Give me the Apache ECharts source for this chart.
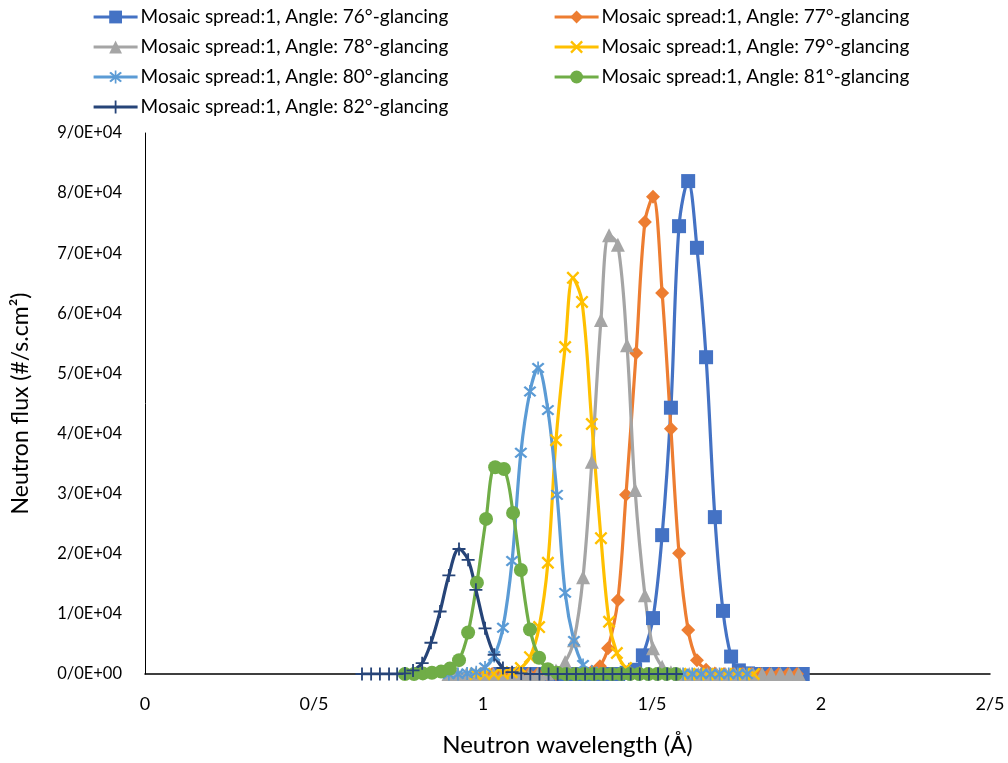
<!DOCTYPE html>
<html>
<head>
<meta charset="utf-8">
<script src="https://cdn.jsdelivr.net/npm/echarts@6/dist/echarts.min.js"></script>
<style>
html,body{margin:0;padding:0;background:#fff;}
#chart{width:1008px;height:763px;}
</style>
</head>
<body>
<div id="chart"></div>
<script>
// ---- Data ----
const seriesNames = [
  'Mosaic spread:1, Angle: 76°-glancing',
  'Mosaic spread:1, Angle: 77°-glancing',
  'Mosaic spread:1, Angle: 78°-glancing',
  'Mosaic spread:1, Angle: 79°-glancing',
  'Mosaic spread:1, Angle: 80°-glancing',
  'Mosaic spread:1, Angle: 81°-glancing',
  'Mosaic spread:1, Angle: 82°-glancing'
];

const x76 = [1.050,1.077,1.104,1.131,1.158,1.185,1.212,1.239,1.266,1.293,1.320,1.347,1.374,1.400,1.425,1.450,1.473,1.503,1.530,1.556,1.580,1.607,1.633,1.660,1.686,1.710,1.734,1.757,1.784,1.811,1.838,1.865,1.892,1.919,1.946];
const y76 = [0,0,0,0,0,0,0,0,0,0,0,0,0,0,200,700,3100,9300,23100,44300,74500,82000,70900,52700,26100,10500,2900,600,100,0,0,0,0,0,0];

const x77 = [1.000,1.027,1.054,1.081,1.108,1.135,1.162,1.189,1.216,1.243,1.270,1.296,1.322,1.346,1.370,1.399,1.423,1.453,1.479,1.503,1.530,1.556,1.580,1.607,1.633,1.660,1.686,1.713,1.740,1.767,1.794,1.821,1.848,1.875,1.902,1.929];
const y77 = [0,0,0,0,0,0,0,0,0,0,0,100,400,1300,4300,12300,29800,53400,75200,79400,63400,40800,20100,7300,2300,700,100,0,0,0,0,0,0,0,0,0];

const x78 = [0.898,0.925,0.951,0.978,1.004,1.031,1.057,1.084,1.110,1.137,1.163,1.190,1.216,1.243,1.269,1.296,1.322,1.349,1.373,1.399,1.426,1.450,1.479,1.503,1.530,1.556,1.583,1.610,1.637,1.664,1.691,1.718,1.745,1.772,1.799,1.826,1.853,1.880,1.907,1.934];
const y78 = [0,0,0,0,0,0,0,0,0,0,0,100,600,2000,5600,16100,35300,58900,73000,71400,54700,30600,13100,4300,1200,300,0,0,0,0,0,0,0,0,0,0,0,0,0,0];

const x79 = [0.978,1.005,1.032,1.059,1.085,1.112,1.139,1.166,1.192,1.216,1.243,1.266,1.293,1.322,1.349,1.373,1.396,1.423,1.450,1.477,1.504,1.531,1.558,1.585,1.612,1.639,1.666,1.693,1.720,1.747,1.774,1.801];
const y79 = [0,0,0,100,300,1000,2800,7800,18500,38900,54400,65900,61900,41600,22600,8700,3500,1000,200,0,0,0,0,0,0,0,0,0,0,0,0,0];

const x80 = [0.899,0.926,0.953,0.980,1.006,1.033,1.059,1.086,1.112,1.139,1.163,1.192,1.219,1.243,1.269,1.296,1.322,1.349,1.376,1.403,1.430,1.457,1.484,1.511,1.538,1.565,1.592,1.619,1.646,1.673,1.700,1.727,1.754,1.781];
const y80 = [0,0,100,300,1100,3000,7700,18800,36800,47000,50900,43900,29800,13500,5500,1500,400,100,0,0,0,0,0,0,0,0,0,0,0,0,0,0,0,0];

const x81 = [0.769,0.796,0.822,0.849,0.876,0.902,0.929,0.956,0.982,1.009,1.036,1.062,1.089,1.112,1.139,1.166,1.192,1.219,1.246,1.273,1.300,1.327,1.354,1.381,1.408,1.435,1.462,1.489,1.516,1.543,1.570];
const y81 = [0,0,100,200,400,900,2300,6900,15200,25800,34400,34100,26800,17300,7400,2700,800,200,0,0,0,0,0,0,0,0,0,0,0,0,0];

const x82 = [0.642,0.669,0.695,0.722,0.746,0.769,0.793,0.820,0.846,0.873,0.899,0.929,0.956,0.979,1.006,1.033,1.059,1.086,1.113,1.140,1.167,1.194,1.221,1.248,1.275,1.302,1.329,1.356,1.383,1.410,1.437,1.464,1.491,1.518,1.545,1.572];
const y82 = [0,0,0,0,0,100,600,1800,5200,10400,16400,20800,19000,14000,7600,3200,1000,300,100,0,0,0,0,0,0,0,0,0,0,0,0,0,0,0,0,0];

const xTickLabels = ['0','0/5','1','1/5','2','2/5'];
const yTickLabels = ['0/0E+00','1/0E+04','2/0E+04','3/0E+04','4/0E+04','5/0E+04','6/0E+04','7/0E+04','8/0E+04','9/0E+04'];

// ---- Styling ----
const colors = ['#4472C4','#ED7D31','#A5A5A5','#FFC000','#5B9BD5','#70AD47','#264478'];
const SYM_X = 'path://M0,1.3 L1.3,0 L10,8.7 L8.7,10 Z M8.7,0 L10,1.3 L1.3,10 L0,8.7 Z';
const SYM_AST = 'path://M0,1.3 L1.3,0 L10,8.7 L8.7,10 Z M8.7,0 L10,1.3 L1.3,10 L0,8.7 Z M4.35,-1 L5.65,-1 L5.65,11 L4.35,11 Z';
const SYM_PLUS = 'path://M0,4.3 L10,4.3 L10,5.7 L0,5.7 Z M4.3,0 L5.7,0 L5.7,10 L4.3,10 Z';
const symbols = ['rect','diamond','triangle',SYM_X,SYM_AST,'circle',SYM_PLUS];
const symSizes = [14,14,14,13,13,14,13];
const FONT = 'Lato, "Liberation Sans", sans-serif';

const xs = [x76,x77,x78,x79,x80,x81,x82];
const ys = [y76,y77,y78,y79,y80,y81,y82];

const series = seriesNames.map((name,i)=>({
  name: name,
  type: 'line',
  smooth: 0.35,
  data: xs[i].map((x,j)=>[x, ys[i][j]]),
  symbol: symbols[i],
  symbolSize: symSizes[i],
  showAllSymbol: true,
  lineStyle: {color: colors[i], width: 3.2},
  itemStyle: {color: colors[i], borderWidth: 0},
  color: colors[i],
  animation: false
}));

const chart = echarts.init(document.getElementById('chart'), null, {renderer:'canvas'});
const legendCommon = {
  orient: 'vertical',
  itemWidth: 44,
  itemHeight: 16,
  itemGap: 10,
  lineStyle: {width: 3.2},
  textStyle: {fontFamily: FONT, fontSize: 19, color: '#000', lineHeight: 20, padding:[0,0,0,-2]},
  padding: 0
};
chart.setOption({
  backgroundColor: '#fff',
  animation: false,
  legend: [
    Object.assign({}, legendCommon, {left: 92, top: 7, data: [seriesNames[0],seriesNames[2],seriesNames[4],seriesNames[6]]}),
    Object.assign({}, legendCommon, {left: 553, top: 7, data: [seriesNames[1],seriesNames[3],seriesNames[5]]})
  ],
  grid: {left: 145, right: 18, top: 133, bottom: 89, containLabel: false, outerBoundsMode: 'none'},
  xAxis: {
    type: 'value', min: 0, max: 2.5, interval: 0.5,
    name: 'Neutron wavelength (Å)', nameLocation: 'middle', nameGap: 59,
    nameTextStyle: {fontFamily: FONT, fontSize: 24, color: '#000'},
    axisLine: {show: true, onZero: false, lineStyle: {color: '#000', width: 1.5}},
    axisTick: {show: false},
    splitLine: {show: false},
    axisLabel: {fontFamily: FONT, fontSize: 18, color: '#000', margin: 21,
      formatter: v => xTickLabels[Math.round(v/0.5)]}
  },
  yAxis: {
    type: 'value', min: 0, max: 90000, interval: 10000,
    name: 'Neutron flux (#/s.cm²)', nameLocation: 'middle', nameGap: 113, nameRotate: 90,
    nameTextStyle: {fontFamily: FONT, fontSize: 23, color: '#000'},
    axisLine: {show: true, lineStyle: {color: '#000', width: 1}},
    axisTick: {show: false},
    splitLine: {show: false},
    axisLabel: {fontFamily: FONT, fontSize: 16.5, color: '#000', margin: 23,
      formatter: v => yTickLabels[Math.round(v/10000)]}
  },
  series: series
});
</script>
</body>
</html>
